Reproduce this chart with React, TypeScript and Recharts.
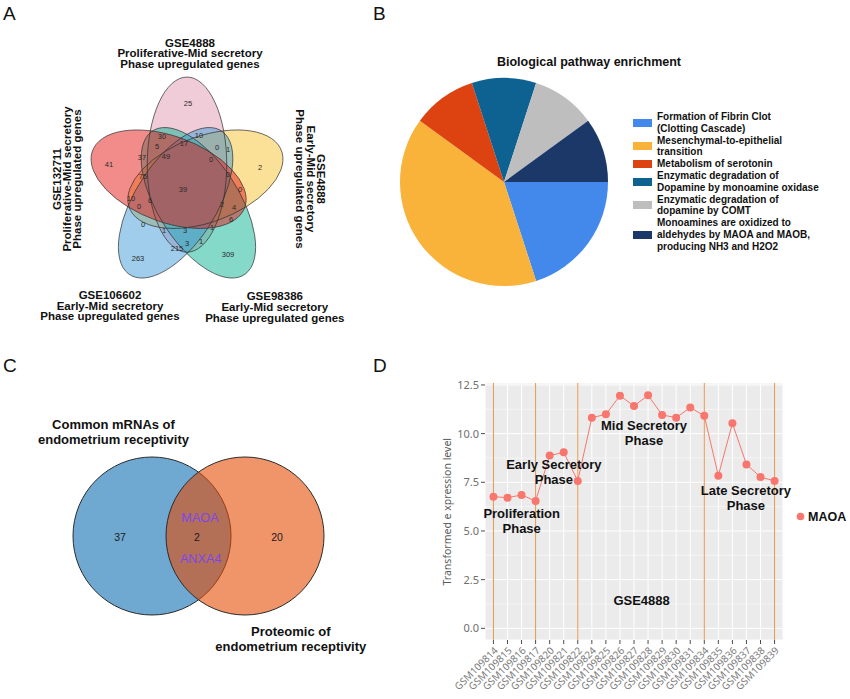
import React from 'react'
import {
  ScatterChart,
  Scatter,
  XAxis,
  YAxis,
  PieChart,
  Pie,
  Cell,
  ComposedChart,
  Line,
  CartesianGrid,
  ReferenceLine,
  ReferenceDot,
} from 'recharts'

const ARIAL = '"Liberation Sans", Arial, Helvetica, sans-serif'
const GGFONT = '"Noto Sans", "Open Sans", sans-serif'

// ---------- A: five-set Venn of phase upregulated genes ----------
const vennSetLabels = [
  ['GSE4888', 'Proliferative-Mid secretory', 'Phase upregulated genes'],
  ['GSE4888', 'Early-Mid secretory', 'Phase upregulated genes'],
  ['GSE98386', 'Early-Mid secretory', 'Phase upregulated genes'],
  ['GSE106602', 'Early-Mid secretory', 'Phase upregulated genes'],
  ['GSE132711', 'Proliferative-Mid secretory', 'Phase upregulated genes'],
]
const vennColors = ['#E29AB2', '#F8C232', '#0AB393', '#3F9CD8', '#E41A17']
const regionCounts = [
  25, 30, 10, 5, 17, 0, 1, 37, 49, 0, 41, 2, 75, 0, 39, 0,
  10, 6, 0, 2, 4, 6, 0, 1, 3, 1, 3, 1, 215, 263, 309,
]

// layout of the diagram (panel pixels)
const regionX = [
  188, 162, 199, 157, 184, 217, 228, 142, 166, 211, 109, 260, 143, 228, 183, 240,
  131, 150, 139, 222, 234, 231, 143, 164, 185, 212, 187, 201, 177, 138, 228,
]
const regionY = [
  103, 136, 135, 146, 143, 147, 149, 157, 156, 159, 164, 167, 176, 174, 189, 189,
  198, 200, 206, 204, 207, 219, 224, 230, 230, 227, 243, 241, 248, 258, 254,
]
const ellipseX = [187, 205.4, 198.4, 175.6, 168.6]
const ellipseY = [164.6, 179.2, 202.8, 202.8, 179.2]
const ellipseTilt = [90, -18, 54, 126, 18]

// ---------- B: pathway pie ----------
const pathwayNames = [
  'Formation of Fibrin Clot\n(Clotting Cascade)',
  'Mesenchymal-to-epithelial\ntransition',
  'Metabolism of serotonin',
  'Enzymatic degradation of\nDopamine by monoamine oxidase',
  'Enzymatic degradation of\ndopamine by COMT',
  'Monoamines are oxidized to\naldehydes by MAOA and MAOB,\nproducing NH3 and H2O2',
]
const pathwayGenes = [2, 4, 1, 1, 1, 1]
const pathwayColors = ['#4389EC', '#F9B23A', '#DC4310', '#0D6292', '#BEBEBE', '#1B3868']

// ---------- C: two-set Venn ----------
const overlapSets = [
  ['Common mRNAs of', 'endometrium receptivity'],
  ['Proteomic of', 'endometrium receptivity'],
]
const overlapCounts = [37, 2, 20]
const sharedGenes = ['MAOA', 'ANXA4']

// ---------- D: MAOA across GSE4888 ----------
const gsmSamples = [
  'GSM109814', 'GSM109815', 'GSM109816', 'GSM109817', 'GSM109820', 'GSM109821',
  'GSM109822', 'GSM109824', 'GSM109825', 'GSM109826', 'GSM109827', 'GSM109828',
  'GSM109829', 'GSM109830', 'GSM109831', 'GSM109834', 'GSM109835', 'GSM109836',
  'GSM109837', 'GSM109838', 'GSM109839',
]
const maoaLevels = [
  6.76, 6.71, 6.85, 6.54, 8.87, 9.04, 7.57, 10.82, 10.99, 11.95, 11.42, 11.97,
  10.96, 10.82, 11.34, 10.92, 7.84, 10.53, 8.42, 7.77, 7.57,
]
const phaseEdges = [0, 3, 6, 15, 20]
const yTicks = [0, 2.5, 5, 7.5, 10, 12.5]
const yMinor = [1.25, 3.75, 6.25, 8.75, 11.25]
const phaseNotes = [
  { idx: 2.01, level: 5.53, lines: ['Proliferation', 'Phase'] },
  { idx: 4.3, level: 8.02, lines: ['Early Secretory', 'Phase'] },
  { idx: 10.71, level: 10.04, lines: ['Mid Secretory', 'Phase'] },
  { idx: 17.96, level: 6.7, lines: ['Late Secretory', 'Phase'] },
  { idx: 10.54, level: 1.42, lines: ['GSE4888'] },
]

function Lines({ x, y, lines, size, dy, weight = 'bold', anchor = 'middle', rotate = 0, color = '#111', family = ARIAL }: any) {
  return (
    <text
      x={x}
      y={y}
      transform={rotate ? `rotate(${rotate} ${x} ${y})` : undefined}
      fontSize={size}
      fontWeight={weight}
      textAnchor={anchor}
      fill={color}
      fontFamily={family}
    >
      {lines.map((l: string, i: number) => (
        <tspan key={i} x={x} dy={i === 0 ? 0 : dy}>
          {l}
        </tspan>
      ))}
    </text>
  )
}

// fills first, outlines on top (as VennDiagram does)
const EllipseFill = (p: any) => (
  <g transform={`translate(${p.cx},${p.cy}) scale(0.97,1.055) rotate(${p.payload.tilt})`}>
    <ellipse rx={83} ry={41} fill={p.payload.color} fillOpacity={0.5} stroke="none" />
  </g>
)
const EllipseEdge = (p: any) => (
  <g transform={`translate(${p.cx},${p.cy}) scale(0.97,1.055) rotate(${p.payload.tilt})`}>
    <ellipse
      rx={83}
      ry={41}
      fill="none"
      stroke="#2e2e2e"
      strokeOpacity={0.7}
      strokeWidth={1}
      vectorEffect="non-scaling-stroke"
    />
  </g>
)

const CountShape = (p: any) => (
  <text x={p.cx} y={p.cy} dy="0.35em" textAnchor="middle" fontSize={7.5} fill="#2a2a2a" fontFamily={ARIAL}>
    {p.payload.n}
  </text>
)

function VennA() {
  const ellipses = vennColors.map((c, i) => ({ x: ellipseX[i], y: ellipseY[i], tilt: ellipseTilt[i], color: c }))
  const regions = regionCounts.map((n, i) => ({ x: regionX[i], y: regionY[i], n }))
  return (
    <ScatterChart width={340} height={340} margin={{ top: 0, right: 0, bottom: 0, left: 0 }}>
      <XAxis type="number" dataKey="x" domain={[0, 340]} allowDataOverflow hide />
      <YAxis type="number" dataKey="y" domain={[0, 340]} allowDataOverflow reversed hide />
      <Scatter data={ellipses} shape={EllipseFill} isAnimationActive={false} />
      <Scatter data={ellipses} shape={EllipseEdge} isAnimationActive={false} />
      <Scatter data={regions} shape={CountShape} isAnimationActive={false} />
    </ScatterChart>
  )
}

function PathwayB() {
  const data = pathwayNames.map((name, i) => ({ name, value: pathwayGenes[i] }))
  return (
    <div style={{ position: 'relative', width: 470, height: 340 }}>
      <PieChart width={470} height={340} margin={{ top: 0, right: 0, bottom: 0, left: 0 }}>
        <Pie
          data={data}
          dataKey="value"
          cx={124}
          cy={182}
          outerRadius={104}
          startAngle={0}
          endAngle={-360}
          stroke="none"
          isAnimationActive={false}
        >
          {data.map((d, i) => (
            <Cell key={d.name} fill={pathwayColors[i]} stroke="none" />
          ))}
        </Pie>
      </PieChart>
      <div style={{ position: 'absolute', left: 253, top: 111, fontFamily: ARIAL, fontWeight: 'bold', fontSize: 10, lineHeight: '11.8px', color: '#111' }}>
        {pathwayNames.map((name, i) => (
          <div key={name} style={{ display: 'flex', alignItems: 'center' }}>
            <div style={{ width: 19, height: 8, background: pathwayColors[i], marginRight: 5 }} />
            <div style={{ whiteSpace: 'pre' }}>{name}</div>
          </div>
        ))}
      </div>
    </div>
  )
}

const circleX = [152, 245]
const circleFill = ['#6FA9D1', '#E54800']
const circleOpacity = [1, 0.586]
const countX = [120, 197, 277]
const geneX = [200, 200.7]
const geneY = [517.3, 559]

const CircleShape = (p: any) => (
  <circle cx={p.cx} cy={p.cy} r={79} fill={p.payload.fill} fillOpacity={p.payload.op} stroke="#2b2b2b" strokeWidth={1} />
)
const LabelShape = (p: any) => (
  <text x={p.cx} y={p.cy} dy="0.35em" textAnchor="middle" fontSize={p.payload.size} fill={p.payload.color} fontFamily={ARIAL}>
    {p.payload.text}
  </text>
)

function OverlapC() {
  const circles = overlapSets.map((s, i) => ({ x: circleX[i], y: 536, fill: circleFill[i], op: circleOpacity[i] }))
  const counts = overlapCounts.map((n, i) => ({ x: countX[i], y: 537, text: String(n), size: 10.5, color: '#1a1a1a' }))
  const genes = sharedGenes.map((g, i) => ({ x: geneX[i], y: geneY[i], text: g, size: 12.7, color: '#7B48E5' }))
  return (
    <ScatterChart width={420} height={359} margin={{ top: 0, right: 0, bottom: 0, left: 0 }}>
      <XAxis type="number" dataKey="x" domain={[0, 420]} allowDataOverflow hide />
      <YAxis type="number" dataKey="y" domain={[340, 699]} allowDataOverflow reversed hide />
      <Scatter data={circles} shape={CircleShape} isAnimationActive={false} />
      <Scatter data={[...counts, ...genes]} shape={LabelShape} isAnimationActive={false} />
    </ScatterChart>
  )
}

const GsmTick = (props: any) => {
  const { x, y, payload } = props
  return (
    <text
      x={x}
      y={y}
      dy="0.72em"
      transform={`rotate(-45 ${x} ${y})`}
      textAnchor="end"
      fontSize={10}
      fill="#7a7a7a"
      fontFamily={GGFONT}
    >
      {gsmSamples[payload.value]}
    </text>
  )
}

const NoteShape = (lines: string[]) => (p: any) => (
  <text x={p.cx} y={p.cy} textAnchor="middle" fontSize={13} fontWeight="bold" fill="#111" fontFamily={ARIAL}>
    {lines.map((l, i) => (
      <tspan key={i} x={p.cx} y={p.cy + 4.5 + (i - (lines.length - 1) / 2) * 15}>
        {l}
      </tspan>
    ))}
  </text>
)

function ExpressionD() {
  const data = gsmSamples.map((s, i) => ({ idx: i, sample: s, level: maoaLevels[i] }))
  return (
    <ComposedChart width={430} height={359} data={data} margin={{ top: 43, right: 67, bottom: 0, left: 0 }}>
      <CartesianGrid fill="#EBEBEB" stroke="#FFFFFF" strokeWidth={1} />
      {yMinor.map((v) => (
        <ReferenceLine key={v} y={v} stroke="#FFFFFF" strokeWidth={0.5} />
      ))}
      <XAxis
        type="number"
        dataKey="idx"
        domain={[-0.6, 20.6]}
        ticks={gsmSamples.map((_, i) => i)}
        interval={0}
        allowDataOverflow
        tick={<GsmTick />}
        tickLine={{ stroke: '#4d4d4d' }}
        tickSize={4}
        tickMargin={2}
        axisLine={false}
        height={59}
      />
      <YAxis
        type="number"
        domain={[-0.6, 12.6]}
        ticks={yTicks}
        allowDataOverflow
        tickFormatter={(v: number) => v.toFixed(1)}
        tick={{ fill: '#6e6e6e', fontSize: 11, fontFamily: GGFONT }}
        tickLine={{ stroke: '#4d4d4d' }}
        tickSize={4}
        tickMargin={2}
        axisLine={false}
        width={65}
      />
      {phaseEdges.map((x) => (
        <ReferenceLine key={x} x={x} stroke="#E8954C" strokeWidth={1} />
      ))}
      <Line
        type="linear"
        dataKey="level"
        stroke="#F8766D"
        strokeWidth={1}
        dot={{ r: 4, fill: '#F8766D', stroke: 'none' }}
        isAnimationActive={false}
      />
      {phaseNotes.map((n) => (
        <ReferenceDot key={n.lines.join()} x={n.idx} y={n.level} r={0} shape={NoteShape(n.lines)} />
      ))}
    </ComposedChart>
  )
}

export default function App() {
  return (
    <div style={{ position: 'absolute', left: 0, top: 0, width: 850, height: 699, background: '#fff', overflow: 'hidden' }}>
      <div style={{ position: 'absolute', left: 0, top: 0 }}>
        <VennA />
      </div>
      <div style={{ position: 'absolute', left: 380, top: 0 }}>
        <PathwayB />
      </div>
      <div style={{ position: 'absolute', left: 0, top: 340 }}>
        <OverlapC />
      </div>
      <div style={{ position: 'absolute', left: 420, top: 340 }}>
        <ExpressionD />
      </div>
      <svg width={850} height={699} style={{ position: 'absolute', left: 0, top: 0, pointerEvents: 'none' }}>
        {['A', 'B', 'C', 'D'].map((t, i) => (
          <text key={t} x={i % 2 ? 373 : 3} y={i < 2 ? 20 : 372} fontSize={19} fill="#111" fontFamily={ARIAL}>
            {t}
          </text>
        ))}
        <Lines x={190} y={46.7} lines={vennSetLabels[0]} size={11.5} dy={10.5} />
        <Lines x={316.7} y={179} lines={vennSetLabels[1]} size={11.5} dy={10.2} rotate={90} />
        <Lines x={274.8} y={300} lines={vennSetLabels[2]} size={11.5} dy={10.8} />
        <Lines x={110} y={299} lines={vennSetLabels[3]} size={11.5} dy={10.5} />
        <Lines x={60.5} y={179} lines={vennSetLabels[4]} size={11.5} dy={10.3} rotate={-90} />
        <text x={589} y={66} textAnchor="middle" fontSize={12.5} fontWeight="bold" fill="#111" fontFamily={ARIAL}>
          Biological pathway enrichment
        </text>
        <Lines x={113.5} y={429} lines={overlapSets[0]} size={13} dy={15} />
        <Lines x={290.8} y={635.7} lines={overlapSets[1]} size={13} dy={15} />
        <Lines
          x={451}
          y={511.7}
          lines={['Transformed e xpression level']}
          size={10.5}
          weight="normal"
          rotate={-90}
          color="#5a5a5a"
          family={GGFONT}
        />
        <circle cx={800.5} cy={516.5} r={3.8} fill="#F8766D" />
        <text x={808} y={521} fontSize={12.5} fontWeight="bold" fill="#111" fontFamily={ARIAL}>
          MAOA
        </text>
      </svg>
    </div>
  )
}
